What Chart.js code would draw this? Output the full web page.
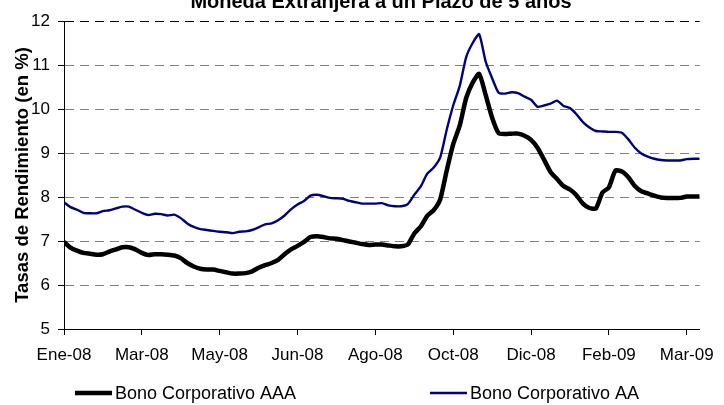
<!DOCTYPE html>
<html>
<head>
<meta charset="utf-8">
<script src="https://cdn.jsdelivr.net/npm/chart.js@4.4.1/dist/chart.umd.min.js"></script>
<style>
  html, body { margin: 0; padding: 0; background: #fff; }
  #wrap { width: 724px; height: 405px; }
</style>
</head>
<body>
<div id="wrap"><canvas id="chart"></canvas></div>
<script>
'use strict'

const TITLE = 'Moneda Extranjera a un Plazo de 5 años';
const Y_TITLE = 'Tasas de Rendimiento (en %)';
const seriesNames = ['Bono Corporativo AAA', 'Bono Corporativo AA'];

// tick labels and the point index where each one sits
const tickLabels = ['Ene-08', 'Mar-08', 'May-08', 'Jun-08', 'Ago-08', 'Oct-08', 'Dic-08', 'Feb-09', 'Mar-09'];
const tickIndex = [0, 12, 24, 36, 48, 60, 72, 84, 96];

const bonoAAA = [
  6.98, 6.85, 6.78, 6.73, 6.71, 6.69, 6.70, 6.76, 6.81, 6.86,
  6.86, 6.81, 6.73, 6.68, 6.70, 6.70, 6.69, 6.67, 6.61, 6.50,
  6.42, 6.37, 6.35, 6.35, 6.32, 6.29, 6.26, 6.26, 6.27, 6.31,
  6.39, 6.45, 6.50, 6.57, 6.70, 6.81, 6.89, 6.98, 7.09, 7.11,
  7.09, 7.06, 7.05, 7.02, 6.99, 6.96, 6.93, 6.91, 6.92, 6.92,
  6.90, 6.88, 6.88, 6.92, 7.17, 7.33, 7.57, 7.70, 7.95, 8.60,
  9.20, 9.62, 10.25, 10.60, 10.80, 10.32, 9.80, 9.45, 9.43, 9.44,
  9.44, 9.39, 9.30, 9.12, 8.85, 8.57, 8.41, 8.25, 8.17, 8.04,
  7.85, 7.75, 7.74, 8.10, 8.22, 8.60, 8.58, 8.45, 8.25, 8.13,
  8.08, 8.03, 7.99, 7.98, 7.98, 7.98, 8.01, 8.01, 8.01
];
const bonoAA = [
  7.88, 7.77, 7.71, 7.64, 7.63, 7.63, 7.68, 7.70, 7.74, 7.78,
  7.78, 7.71, 7.64, 7.59, 7.62, 7.61, 7.58, 7.60, 7.52, 7.40,
  7.32, 7.27, 7.25, 7.23, 7.21, 7.20, 7.18, 7.21, 7.22, 7.25,
  7.31, 7.38, 7.40, 7.47, 7.58, 7.72, 7.83, 7.91, 8.03, 8.05,
  8.02, 7.98, 7.97, 7.96, 7.91, 7.88, 7.85, 7.85, 7.85, 7.86,
  7.81, 7.79, 7.79, 7.84, 8.05, 8.24, 8.53, 8.67, 8.90, 9.53,
  10.08, 10.52, 11.18, 11.50, 11.70, 11.08, 10.70, 10.37, 10.35, 10.38,
  10.36, 10.28, 10.21, 10.05, 10.08, 10.12, 10.19, 10.07, 10.02, 9.88,
  9.70, 9.58, 9.50, 9.49, 9.48, 9.48, 9.46, 9.31, 9.12, 8.99,
  8.92, 8.87, 8.84, 8.83, 8.83, 8.83, 8.86, 8.87, 8.87
];

const FONT = 'Arial, "Liberation Sans", sans-serif';
const toPoints = (values) => values.map((v, i) => ({x: i, y: v}));

/** title sits half outside the top edge, as in the original */
const cutTitle = {
  id: 'cutTitle',
  afterDraw(chart) {
    const ctx = chart.ctx;
    ctx.save();
    ctx.font = 'bold 20px ' + FONT;
    ctx.fillStyle = '#000';
    ctx.textAlign = 'center';
    ctx.textBaseline = 'alphabetic';
    ctx.fillText(TITLE, 381, 8);
    ctx.restore();
  }
};

/** legend row at the bottom, items far apart */
const wideLegend = {
  id: 'wideLegend',
  afterDraw(chart) {
    const ctx = chart.ctx;
    const starts = [75, 430];
    const y = 393;
    ctx.save();
    ctx.font = '18px ' + FONT;
    ctx.textBaseline = 'middle';
    ctx.textAlign = 'left';
    chart.data.datasets.forEach((ds, i) => {
      const x = starts[i];
      ctx.strokeStyle = ds.borderColor;
      ctx.lineWidth = ds.borderWidth;
      ctx.beginPath();
      ctx.moveTo(x, y);
      ctx.lineTo(x + 37, y);
      ctx.stroke();
      ctx.fillStyle = '#000';
      ctx.fillText(ds.label, x + 40, y + 1);
    });
    ctx.restore();
  }
};

new Chart(document.getElementById('chart'), {
  type: 'line',
  data: {
    datasets: [{
      label: seriesNames[0],
      data: toPoints(bonoAAA),
      borderColor: '#000000',
      borderWidth: 4.5,
      pointRadius: 0,
      tension: 0.2
    }, {
      label: seriesNames[1],
      data: toPoints(bonoAA),
      borderColor: '#000080',
      borderWidth: 2.4,
      pointRadius: 0,
      tension: 0.2
    }]
  },
  options: {
    responsive: true,
    maintainAspectRatio: false,
    animation: false,
    devicePixelRatio: 1,
    layout: { padding: { top: 21, right: 17, left: 0, bottom: 0 } },
    plugins: {
      legend: { display: false },
      title: { display: false },
      tooltip: { enabled: false }
    },
    scales: {
      x: {
        type: 'linear',
        min: 0,
        max: bonoAAA.length - 1,
        afterBuildTicks: (scale) => { scale.ticks = tickIndex.map(v => ({value: v})); },
        afterFit: (scale) => { scale.height = 76; },
        ticks: {
          autoSkip: false,
          maxRotation: 0,
          padding: 10,
          color: '#000',
          font: { family: FONT, size: 17 },
          callback: (v) => tickLabels[tickIndex.indexOf(v)]
        },
        grid: { drawOnChartArea: false, tickLength: 6, tickColor: '#000' },
        border: { color: '#000', width: 1 }
      },
      y: {
        min: 5,
        max: 12,
        afterFit: (scale) => { scale.width = 64; },
        ticks: {
          stepSize: 1,
          padding: 8,
          color: '#000',
          font: { family: FONT, size: 17 }
        },
        grid: {
          color: (c) => c.tick.value === 5 ? 'rgba(0,0,0,0)' : (c.tick.value === 12 ? '#000' : '#808080'),
          lineWidth: 1,
          tickColor: '#000',
          tickLength: 6
        },
        border: { color: '#000', width: 1, dash: [9, 6] },
        title: {
          display: true,
          text: Y_TITLE,
          color: '#000',
          font: { family: FONT, size: 18.5, weight: 'bold' },
          padding: { top: 12, bottom: 0 }
        }
      }
    }
  },
  plugins: [cutTitle, wideLegend]
});
</script>
</body>
</html>
